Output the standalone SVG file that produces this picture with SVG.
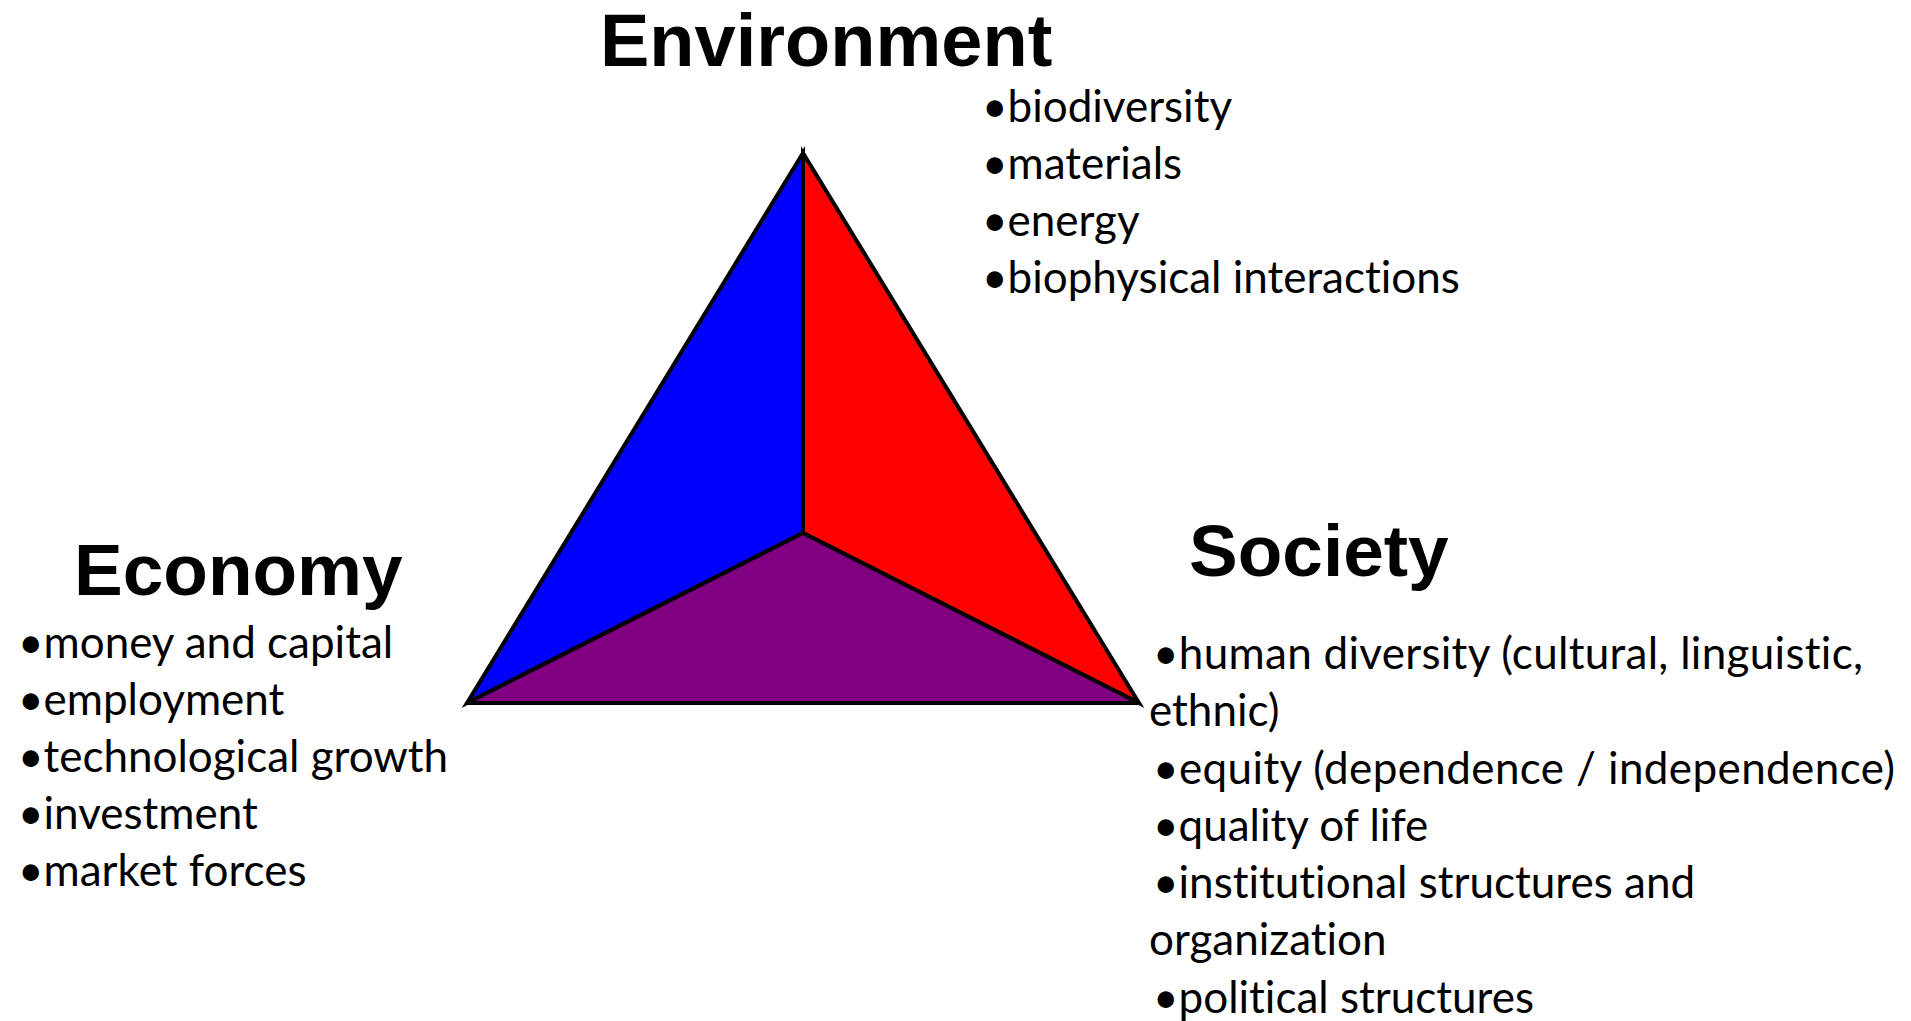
<svg xmlns="http://www.w3.org/2000/svg" width="1911" height="1021" viewBox="0 0 1911 1021">
<style>
.h{font-family:"Liberation Sans",Arial,sans-serif;font-weight:bold;font-size:73px;fill:#000}
.b{font-family:Lato,"Open Sans",sans-serif;font-size:44px;fill:#000;font-variant-ligatures:none;font-feature-settings:"liga" 0}
.f{stroke:#000;stroke-width:4;stroke-linejoin:miter}
</style>
<rect width="1911" height="1021" fill="#fff"/>
<g id="triangle">
<polygon class="f" points="803,153 803,533 467,703" fill="#0000FF"/>
<polygon class="f" points="803,153 1139,703 803,533" fill="#FF0000"/>
<polygon class="f" points="467,703 803,533 1139,703" fill="#800080"/>
</g>
<g id="environment">
<text class="h" x="600" y="66" style="font-size:74px">Environment</text>
<text class="b" x="982" y="122">•biodiversity</text>
<text class="b" x="982" y="179">•materials</text>
<text class="b" x="982" y="236">•energy</text>
<text class="b" x="982" y="293">•biophysical interactions</text>
</g>
<g id="economy">
<text class="h" x="74" y="595">Economy</text>
<text class="b" x="18" y="658">•money and capital</text>
<text class="b" x="18" y="715">•employment</text>
<text class="b" x="18" y="772">•technological growth</text>
<text class="b" x="18" y="829">•investment</text>
<text class="b" x="18" y="886">•market forces</text>
</g>
<g id="society">
<text class="h" x="1189" y="576">Society</text>
<text class="b" x="1153" y="669" textLength="710" lengthAdjust="spacing">•human diversity (cultural, linguistic,</text>
<text class="b" x="1149" y="726">ethnic)</text>
<text class="b" x="1153" y="784" textLength="742" lengthAdjust="spacing">•equity (dependence / independence)</text>
<text class="b" x="1153" y="841">•quality of life</text>
<text class="b" x="1153" y="898">•institutional structures and</text>
<text class="b" x="1149" y="955">organization</text>
<text class="b" x="1153" y="1013">•political structures</text>
</g>
<g id="connectors"/>
</svg>
